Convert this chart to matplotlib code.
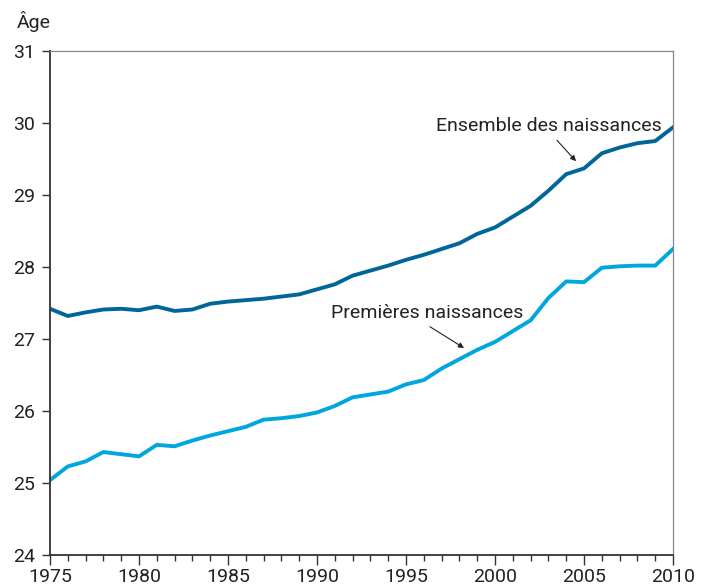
import matplotlib
matplotlib.use("Agg")
import matplotlib.pyplot as plt
from matplotlib.ticker import MultipleLocator

plt.rcParams['font.family'] = ['Roboto', 'DejaVu Sans']
plt.rcParams['font.stretch'] = 'condensed'

years = list(range(1975, 2011))
ensemble = [27.42, 27.32, 27.37, 27.41, 27.42, 27.40, 27.45, 27.39, 27.41, 27.49,
            27.52, 27.54, 27.56, 27.59, 27.62, 27.69, 27.76, 27.88, 27.95, 28.02,
            28.10, 28.17, 28.25, 28.33, 28.46, 28.55, 28.70, 28.85, 29.06, 29.29,
            29.37, 29.58, 29.66, 29.72, 29.75, 29.94]
premieres = [25.04, 25.23, 25.30, 25.43, 25.40, 25.37, 25.53, 25.51, 25.59, 25.66,
             25.72, 25.78, 25.88, 25.90, 25.93, 25.98, 26.07, 26.19, 26.23, 26.27,
             26.37, 26.43, 26.59, 26.72, 26.85, 26.96, 27.11, 27.26, 27.57, 27.80,
             27.79, 27.99, 28.01, 28.02, 28.02, 28.25]
label_ens = "Ensemble des naissances"
label_prem = "Premières naissances"
ylabel = "Âge"

fig = plt.figure(figsize=(7.04, 5.86), dpi=100)
ax = fig.add_axes([0.071, 0.0529, 0.885, 0.860])

ax.plot(years, ensemble, color='#006699', lw=2.8, solid_joinstyle='round')
ax.plot(years, premieres, color='#00A6E0', lw=2.8, solid_joinstyle='round')

ax.set_xlim(1975, 2010)
ax.set_ylim(24, 31)
ax.xaxis.set_major_locator(MultipleLocator(5))
ax.xaxis.set_minor_locator(MultipleLocator(1))
ax.yaxis.set_major_locator(MultipleLocator(1))

for s in ['left', 'bottom']:
    ax.spines[s].set_color('#333333')
    ax.spines[s].set_linewidth(1.3)
for s in ['top', 'right']:
    ax.spines[s].set_color('#888888')
    ax.spines[s].set_linewidth(0.9)

fs = 14
ax.tick_params(axis='x', which='major', direction='out', length=7, width=1.0,
               color='#333333', labelsize=fs, pad=2, labelcolor='#222222')
ax.tick_params(axis='x', which='minor', direction='out', length=4, width=1.0,
               color='#333333')
ax.tick_params(axis='y', which='major', direction='out', length=6, width=1.0,
               color='#333333', labelsize=fs, pad=5, labelcolor='#222222')

fig.text(0.024, 0.963, ylabel, fontsize=fs, color='#222222', ha='left', va='center')

ax.text(2003.03, 29.96, label_ens, fontsize=fs, color='#222222', ha='center', va='center')
ax.annotate('', xy=(2004.55, 29.47), xytext=(2003.48, 29.76),
            arrowprops=dict(arrowstyle='-|>', color='#222222', lw=0.8, mutation_scale=8,
                            shrinkA=0, shrinkB=0))
ax.text(1996.18, 27.36, label_prem, fontsize=fs, color='#222222', ha='center', va='center')
ax.annotate('', xy=(1998.26, 26.875), xytext=(1996.35, 27.17),
            arrowprops=dict(arrowstyle='-|>', color='#222222', lw=0.8, mutation_scale=8,
                            shrinkA=0, shrinkB=0))

fig.savefig('out.png', dpi=100)
